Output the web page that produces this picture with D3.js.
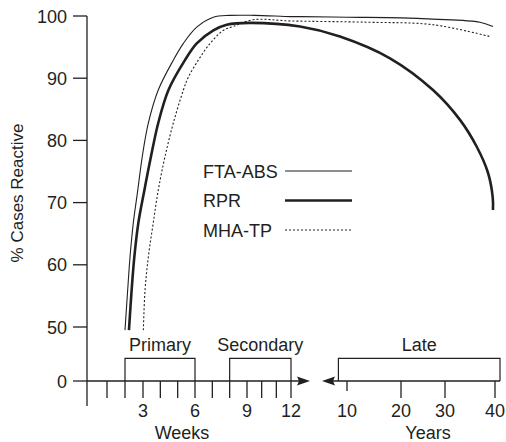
<!DOCTYPE html>
<html><head><meta charset="utf-8">
<script src="https://cdn.jsdelivr.net/npm/d3@7"></script>
<style>
body{margin:0;background:#fff;}
text{font-family:"Liberation Sans",Arial,Helvetica,sans-serif;fill:#231f20;}
</style></head>
<body><svg id="c" width="506" height="442"></svg>
<script>
// ---- data ----
const seriesNames = ["FTA-ABS", "RPR", "MHA-TP"];
// x in weeks since infection, y in % cases reactive
const ftaWeeks = [2.00, 2.15, 2.28, 2.46, 2.71, 2.96, 3.31, 3.88, 4.75, 5.33, 6.10, 7.06, 8.02, 9.5, 12, 100, 520, 1040, 1418, 1924, 2059];
const ftaVals  = [49.5, 56.0, 61.3, 66.7, 72.0, 77.4, 82.8, 88.1, 92.9, 95.6, 98.2, 99.8, 100.1, 100.1, 99.9, 99.9, 99.8, 99.7, 99.5, 99.0, 98.3];
const rprWeeks = [2.22, 2.37, 2.52, 2.74, 3.08, 3.46, 3.88, 4.47, 5.42, 6.10, 7.06, 7.83, 9.2, 94, 456, 934, 1418, 1716, 1893, 2007, 2056, 2059];
const rprVals  = [49.5, 56.0, 61.3, 66.7, 72.0, 77.4, 82.8, 88.1, 92.9, 95.6, 97.7, 98.6, 98.9, 98.3, 96.7, 93.2, 88.1, 83.3, 78.9, 74.8, 70.9, 68.8];
const mhaWeeks = [3.02, 3.12, 3.31, 3.59, 3.88, 4.27, 4.75, 5.33, 5.62, 6.19, 6.87, 7.64, 8.19, 9.41, 12, 713, 1418, 2028];
const mhaVals  = [49.5, 56.0, 61.3, 66.7, 72.0, 77.4, 82.8, 88.1, 90.2, 92.9, 95.6, 97.7, 98.3, 99.4, 99.2, 99.0, 98.6, 96.7];
const yTicks = [0, 50, 60, 70, 80, 90, 100];
const weekTicks = [1,2,3,4,5,6,7,8,9,10,11,12];
const weekLabels = [3, 6, 9, 12];
const yearTicks = [10, 20, 30, 40];
const stageNames = ["Primary", "Secondary", "Late"];
const stageStartWeeks = [2, 8, 442];
const stageEndWeeks = [6, 12, 2132];

// ---- scales ----
const x = d3.scaleLinear()
  .domain([1, 3, 6, 9, 12, 520, 1040, 1560, 2080])
  .range([107, 143, 195, 247, 291, 347, 401, 445, 495]);
const y = d3.scaleLinear().domain([0, 45, 100]).range([381, 358.1, 16]);
const svg = d3.select("#c");
const ink = "#231f20";
const axisX = 87, axisY = y(0);
const fs = 18;

// y axis
svg.append("line").attr("x1", axisX).attr("x2", axisX).attr("y1", y(100)).attr("y2", 406)
  .attr("stroke", ink).attr("stroke-width", 1.3);
yTicks.forEach(t => {
  svg.append("line").attr("x1", axisX - 14).attr("x2", axisX).attr("y1", y(t)).attr("y2", y(t))
    .attr("stroke", ink).attr("stroke-width", 1.3);
  svg.append("text").attr("x", axisX - 20).attr("y", y(t) + 6.5).attr("text-anchor", "end")
    .attr("font-size", fs).text(t);
});
svg.append("text").attr("transform", `translate(23,193) rotate(-90)`).attr("text-anchor", "middle")
  .attr("font-size", 17).text("% Cases Reactive");

// x axis (weeks) with arrow
svg.append("line").attr("x1", axisX).attr("x2", 302).attr("y1", axisY).attr("y2", axisY)
  .attr("stroke", ink).attr("stroke-width", 1.3);
svg.append("path").attr("d", `M310,${axisY}L297,${axisY-4.5}L299,${axisY}L297,${axisY+4.5}Z`).attr("fill", ink);
weekTicks.forEach(w => {
  svg.append("line").attr("x1", x(w)).attr("x2", x(w)).attr("y1", axisY).attr("y2", axisY + 17)
    .attr("stroke", ink).attr("stroke-width", 1.3);
});
weekLabels.forEach(w => {
  svg.append("text").attr("x", x(w)).attr("y", 417).attr("text-anchor", "middle").attr("font-size", fs).text(w);
});
svg.append("text").attr("x", 182).attr("y", 439).attr("text-anchor", "middle").attr("font-size", fs).text("Weeks");

// years axis with left arrow
svg.append("line").attr("x1", 330).attr("x2", x(stageEndWeeks[2])).attr("y1", axisY).attr("y2", axisY)
  .attr("stroke", ink).attr("stroke-width", 1.3);
svg.append("path").attr("d", `M322,${axisY}L335,${axisY-4.5}L333,${axisY}L335,${axisY+4.5}Z`).attr("fill", ink);
yearTicks.forEach((yr, i) => {
  const px = x(yr * 52);
  svg.append("line").attr("x1", px).attr("x2", px).attr("y1", axisY).attr("y2", axisY + (i === 0 ? 10 : 17))
    .attr("stroke", ink).attr("stroke-width", 1.3);
  svg.append("text").attr("x", px).attr("y", 417).attr("text-anchor", "middle").attr("font-size", fs).text(yr);
});
svg.append("text").attr("x", 428).attr("y", 439).attr("text-anchor", "middle").attr("font-size", fs).text("Years");

// stage boxes
stageNames.forEach((s, i) => {
  const x0 = x(stageStartWeeks[i]), x1 = x(stageEndWeeks[i]);
  svg.append("path").attr("d", `M${x0},${axisY}V358.3H${x1}V${axisY}`)
    .attr("fill", "none").attr("stroke", ink).attr("stroke-width", 1.2);
  svg.append("text").attr("x", (x0 + x1) / 2).attr("y", 351).attr("text-anchor", "middle")
    .attr("font-size", fs).text(s);
});

// curves
const line = d3.line().x(d => x(d[0])).y(d => y(d[1])).curve(d3.curveCatmullRom.alpha(0.5));
const series = [
  {w: ftaWeeks, v: ftaVals, width: 1.1, dash: null},
  {w: rprWeeks, v: rprVals, width: 2.6, dash: null},
  {w: mhaWeeks, v: mhaVals, width: 1.1, dash: "2,2"}
];
series.forEach((s, i) => {
  svg.append("path").datum(d3.zip(s.w, s.v)).attr("d", line).attr("fill", "none")
    .attr("stroke", ink).attr("stroke-width", s.width).attr("stroke-dasharray", s.dash);
});

// legend
const legY = [171, 200.5, 230];
seriesNames.forEach((n, i) => {
  svg.append("text").attr("x", 203).attr("y", legY[i] + 6.5).attr("font-size", fs).text(n);
  svg.append("line").attr("x1", 285).attr("x2", 352).attr("y1", legY[i]).attr("y2", legY[i])
    .attr("stroke", ink).attr("stroke-width", series[i].width).attr("stroke-dasharray", series[i].dash);
});
</script></body></html>
